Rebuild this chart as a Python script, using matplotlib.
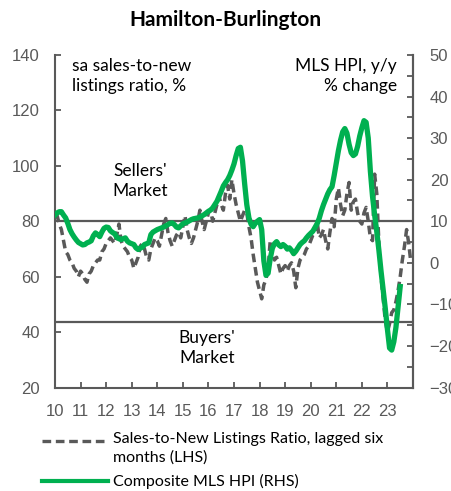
import numpy as np
import matplotlib.pyplot as plt
from matplotlib.lines import Line2D
from matplotlib.ticker import MultipleLocator

START_YEAR = 2010

# Composite MLS HPI, y/y % change (RHS), monthly from Jan 2010
hpi_yy = [
    11.5, 12.0, 12.3, 12.3, 11.5, 10.8, 9.5, 8.0, 7.0, 6.2,
    5.5, 4.9, 4.6, 4.3, 4.4, 4.8, 5.0, 5.3, 6.5, 7.2,
    6.8, 6.3, 7.4, 8.3, 8.6, 8.5, 7.7, 7.3, 7.0, 6.1,
    5.8, 5.6, 5.8, 6.0, 5.2, 4.8, 4.6, 4.4, 3.6, 3.2,
    3.5, 3.8, 4.4, 4.6, 4.8, 6.8, 7.4, 7.7, 8.0, 8.2,
    8.4, 8.6, 8.9, 9.2, 9.5, 9.6, 9.2, 8.6, 8.4, 8.9,
    9.4, 9.6, 9.8, 10.1, 10.4, 10.6, 10.7, 10.8, 11.0, 11.3,
    11.6, 12.0, 12.4, 12.7, 13.2, 14.0, 14.8, 16.0, 17.2, 18.5,
    19.3, 20.0, 21.0, 22.3, 23.8, 25.8, 27.5, 27.8, 24.5, 19.0,
    14.0, 10.8, 9.3, 8.7, 9.5, 10.0, 10.4, 8.0, 0.5, -3.0,
    -2.5, 1.0, 3.5, 4.6, 5.1, 4.3, 3.9, 4.4, 4.0, 3.3,
    3.6, 3.0, 2.2, 2.8, 3.6, 4.4, 4.9, 5.3, 6.0, 6.6,
    7.1, 7.6, 8.5, 9.4, 10.7, 12.5, 14.0, 15.3, 16.6, 17.6,
    18.3, 21.0, 24.0, 27.0, 29.5, 31.5, 32.3, 31.2, 28.5, 26.5,
    25.8, 26.2, 28.0, 30.5, 32.5, 34.2, 33.8, 30.0, 22.0, 16.0,
    11.5, 7.5, 3.0, -2.0, -6.5, -11.0, -16.0, -20.5, -21.0, -19.0,
    -15.5, -10.5, -5.7,
]

# sa sales-to-new listings ratio, lagged six months (LHS), monthly from Jan 2010
snlr_lag6 = [
    82, 82, 79, 77, 73, 69, 68, 66, 65, 63,
    62, 60, 62, 61, 59, 58, 61, 62, 64, 65,
    66, 66, 69, 70, 72, 73, 74, 73, 72, 75,
    79, 73, 71, 70, 69, 67, 66, 63, 65, 67,
    71, 72, 70, 67, 66, 70, 72, 74, 73, 71,
    75, 79, 81, 76, 73, 71, 73, 75, 76, 74,
    78, 82, 77, 74, 72, 74, 77, 80, 84, 80,
    77, 80, 83, 84, 80, 83, 86, 89, 86, 84,
    90, 93, 88, 95, 90, 86, 83, 80, 82, 84,
    83, 78, 74, 68, 63, 58, 55, 52, 57, 59,
    63, 73, 68, 66, 67, 64, 61, 63, 64, 62,
    64, 65, 62, 56, 63, 66, 67, 68, 70, 71,
    73, 75, 76, 80, 74, 75, 77, 73, 70, 76,
    81, 78, 88, 92, 86, 82, 84, 90, 94, 84,
    87, 88, 83, 80, 79, 83, 85, 80, 74, 73,
    97, 90, 72, 60, 52, 44, 40, 43, 47, 48,
    51, 55, 60, 66, 71, 77, 72, 65,
]

year_ticks = list(range(2010, 2024))
year_labels = [str(y)[2:] for y in year_ticks]
sellers_level = 80
buyers_level = 43.5

GREY = '#595959'
GREEN = '#00b050'

plt.rcParams['font.family'] = ['Liberation Sans', 'DejaVu Sans']

W, H = 451, 491


def fx(px):
    return px / W


def fy(py):
    return 1 - py / H


fig = plt.figure(figsize=(W / 100, H / 100), dpi=100)
ax = fig.add_axes([fx(55), fy(387.5), fx(413) - fx(55), fy(55) - fy(387.5)])
ax2 = ax.twinx()

t_snlr = START_YEAR + np.arange(len(snlr_lag6)) / 12
t_hpi = START_YEAR + np.arange(len(hpi_yy)) / 12

ax.axhline(sellers_level, color=GREY, lw=1.6, zorder=1)
ax.axhline(buyers_level, color=GREY, lw=1.6, zorder=1)
ax.plot(t_snlr, snlr_lag6, color=GREY, lw=2.5, dashes=(2.5, 1.4), zorder=2)
ax2.plot(t_hpi, hpi_yy, color=GREEN, lw=3.8, solid_joinstyle='round', zorder=3)

ax.set_xlim(2010, 2024)
ax.set_ylim(20, 140)
ax2.set_ylim(-30, 50)
ax.set_xticks(year_ticks)
ax.set_xticklabels(year_labels)
ax.set_yticks(range(20, 141, 20))
ax2.set_yticks(range(-30, 51, 10))
ax2.yaxis.set_minor_locator(MultipleLocator(5))

for a in (ax, ax2):
    a.spines['top'].set_visible(False)
    for s in a.spines.values():
        s.set_color(GREY)
        s.set_linewidth(1.5)
ax2.spines['left'].set_visible(False)
ax2.spines['bottom'].set_visible(False)

ax.tick_params(axis='both', direction='in', length=4, width=1.3, color=GREY,
               labelcolor=GREY, labelsize=12)
ax.tick_params(axis='y', pad=11)
ax.tick_params(axis='x', pad=12)
ax2.tick_params(axis='y', which='both', direction='in', length=4, width=1.3,
                color=GREY, labelcolor=GREY, labelsize=12, pad=12)

font = ['Lato', 'DejaVu Sans']
note = dict(family=font, fontsize=12.5, color='black', linespacing=1.3)
fig.text(fx(225), fy(20), 'Hamilton-Burlington', ha='center', va='center',
         fontsize=15, fontweight='bold', family=font)
fig.text(fx(72), fy(58), 'sa sales-to-new\nlistings ratio, %', ha='left', va='top', **note)
fig.text(fx(397), fy(58), 'MLS HPI, y/y\n% change', ha='right', va='top',
         multialignment='right', **note)
fig.text(fx(140), fy(163), "Sellers'\nMarket", ha='center', va='top', **note)
fig.text(fx(207), fy(330), "Buyers'\nMarket", ha='center', va='top', **note)

# legend drawn by hand so the dashed key sits on the first text line
leg = dict(family=font, fontsize=11.5, color='black')
fig.add_artist(Line2D([fx(42), fx(108)], [fy(441), fy(441)], transform=fig.transFigure,
                      color=GREY, lw=2.4, dashes=(2.6, 1.4)))
fig.add_artist(Line2D([fx(42), fx(108)], [fy(481), fy(481)], transform=fig.transFigure,
                      color=GREEN, lw=3.0))
fig.text(fx(113), fy(432), 'Sales-to-New Listings Ratio, lagged six\nmonths (LHS)',
         ha='left', va='top', linespacing=1.4, **leg)
fig.text(fx(113), fy(481), 'Composite MLS HPI (RHS)', ha='left', va='center', **leg)

fig.savefig('out.png', dpi=100)
